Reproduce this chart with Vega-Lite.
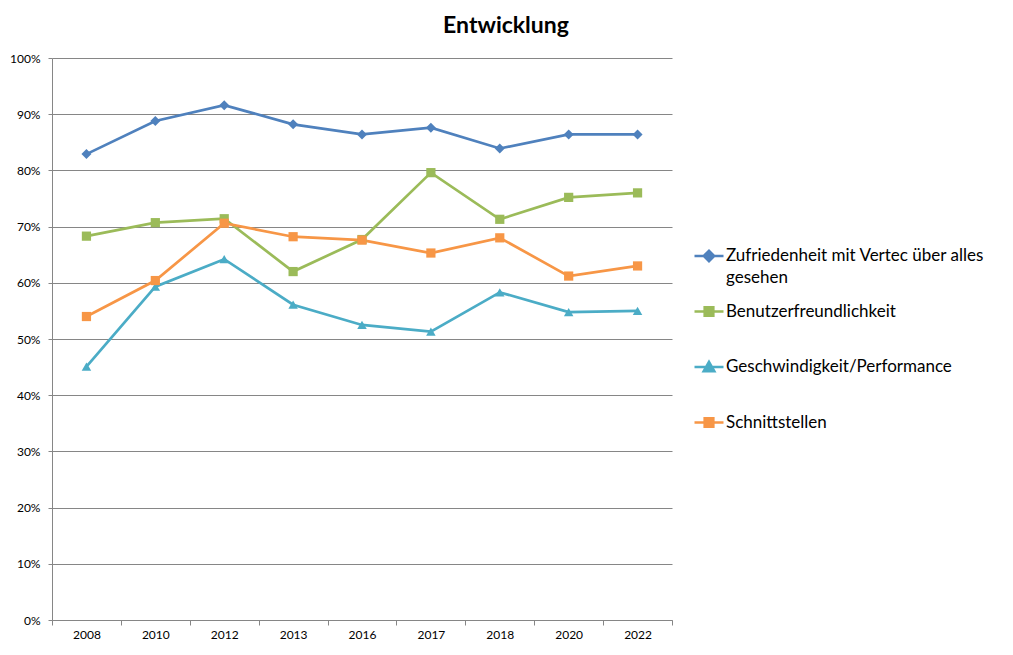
{
  "$schema": "https://vega.github.io/schema/vega-lite/v6.json",
  "width": 620,
  "height": 562,
  "autosize": {"type": "none"},
  "padding": {"left": 52, "top": 58, "right": 341, "bottom": 35},
  "background": "white",
  "title": {
    "text": "Entwicklung",
    "font": "Lato",
    "fontSize": 23,
    "fontWeight": "bold",
    "color": "#000000",
    "anchor": "middle",
    "frame": "group",
    "dx": 144,
    "offset": 14
  },
  "data": {
    "values": [
      {"year": "2008", "series": "Zufriedenheit mit Vertec über alles gesehen", "value": 0.829},
      {"year": "2010", "series": "Zufriedenheit mit Vertec über alles gesehen", "value": 0.888},
      {"year": "2012", "series": "Zufriedenheit mit Vertec über alles gesehen", "value": 0.916},
      {"year": "2013", "series": "Zufriedenheit mit Vertec über alles gesehen", "value": 0.882},
      {"year": "2016", "series": "Zufriedenheit mit Vertec über alles gesehen", "value": 0.864},
      {"year": "2017", "series": "Zufriedenheit mit Vertec über alles gesehen", "value": 0.876},
      {"year": "2018", "series": "Zufriedenheit mit Vertec über alles gesehen", "value": 0.839},
      {"year": "2020", "series": "Zufriedenheit mit Vertec über alles gesehen", "value": 0.864},
      {"year": "2022", "series": "Zufriedenheit mit Vertec über alles gesehen", "value": 0.864},
      {"year": "2008", "series": "Benutzerfreundlichkeit", "value": 0.683},
      {"year": "2010", "series": "Benutzerfreundlichkeit", "value": 0.707},
      {"year": "2012", "series": "Benutzerfreundlichkeit", "value": 0.714},
      {"year": "2013", "series": "Benutzerfreundlichkeit", "value": 0.620},
      {"year": "2016", "series": "Benutzerfreundlichkeit", "value": 0.677},
      {"year": "2017", "series": "Benutzerfreundlichkeit", "value": 0.796},
      {"year": "2018", "series": "Benutzerfreundlichkeit", "value": 0.713},
      {"year": "2020", "series": "Benutzerfreundlichkeit", "value": 0.752},
      {"year": "2022", "series": "Benutzerfreundlichkeit", "value": 0.760},
      {"year": "2008", "series": "Geschwindigkeit/Performance", "value": 0.451},
      {"year": "2010", "series": "Geschwindigkeit/Performance", "value": 0.593},
      {"year": "2012", "series": "Geschwindigkeit/Performance", "value": 0.642},
      {"year": "2013", "series": "Geschwindigkeit/Performance", "value": 0.561},
      {"year": "2016", "series": "Geschwindigkeit/Performance", "value": 0.525},
      {"year": "2017", "series": "Geschwindigkeit/Performance", "value": 0.513},
      {"year": "2018", "series": "Geschwindigkeit/Performance", "value": 0.583},
      {"year": "2020", "series": "Geschwindigkeit/Performance", "value": 0.548},
      {"year": "2022", "series": "Geschwindigkeit/Performance", "value": 0.550},
      {"year": "2008", "series": "Schnittstellen", "value": 0.540},
      {"year": "2010", "series": "Schnittstellen", "value": 0.604},
      {"year": "2012", "series": "Schnittstellen", "value": 0.706},
      {"year": "2013", "series": "Schnittstellen", "value": 0.682},
      {"year": "2016", "series": "Schnittstellen", "value": 0.676},
      {"year": "2017", "series": "Schnittstellen", "value": 0.653},
      {"year": "2018", "series": "Schnittstellen", "value": 0.680},
      {"year": "2020", "series": "Schnittstellen", "value": 0.612},
      {"year": "2022", "series": "Schnittstellen", "value": 0.630}
    ]
  },
  "encoding": {
    "x": {
      "field": "year",
      "type": "ordinal",
      "scale": {"paddingInner": 0, "paddingOuter": 0},
      "axis": {
        "title": null,
        "labelAngle": 0,
        "labelFont": "Lato",
        "labelFontSize": 12,
        "labelColor": "#000000",
        "labelPadding": 4,
        "tickBand": "extent",
        "tickSize": 5,
        "tickColor": "#868686",
        "domainColor": "#868686",
        "grid": false
      }
    },
    "y": {
      "field": "value",
      "type": "quantitative",
      "scale": {"domain": [0, 1], "nice": false},
      "axis": {
        "title": null,
        "format": ".0%",
        "values": [0, 0.1, 0.2, 0.3, 0.4, 0.5, 0.6, 0.7, 0.8, 0.9, 1],
        "labelFont": "Lato",
        "labelFontSize": 12,
        "labelColor": "#000000",
        "labelPadding": 8,
        "tickSize": 4,
        "tickColor": "#868686",
        "domainColor": "#868686",
        "gridColor": "#868686",
        "gridWidth": 1
      }
    },
    "color": {
      "field": "series",
      "type": "nominal",
      "scale": {
        "domain": ["Zufriedenheit mit Vertec über alles gesehen", "Benutzerfreundlichkeit", "Geschwindigkeit/Performance", "Schnittstellen"],
        "range": ["#4F81BD", "#9BBB59", "#4BACC6", "#F79646"]
      },
      "legend": {
        "title": null,
        "orient": "none",
        "legendX": 641,
        "legendY": 188,
        "symbolSize": 841,
        "symbolStrokeWidth": 2.5,
        "labelFont": "Lato",
        "labelFontSize": 17,
        "labelColor": "#000000",
        "labelOffset": 1,
        "labelLimit": 400,
        "clipHeight": 20,
        "rowPadding": 15.5,
        "labelExpr": "datum.label == 'Zufriedenheit mit Vertec über alles gesehen' ? ['Zufriedenheit mit Vertec über alles', 'gesehen'] : [datum.label, ' ']",
        "encode": {
          "symbols": {
            "update": {
              "shape": {"signal": "datum.value == 'Zufriedenheit mit Vertec über alles gesehen' ? 'M-1,0H1M-0.36,0L0,-0.36L0.36,0L0,0.36Z' : datum.value == 'Geschwindigkeit/Performance' ? 'M-1,0H1M0,-0.36L0.37,0.3H-0.37Z' : 'M-1,0H1M-0.3,-0.3H0.3V0.3H-0.3Z'"},
              "fill": {"signal": "scale('color', datum.value)"},
              "fillOpacity": {"value": 1}
            }
          },
          "labels": {
            "update": {
              "lineHeight": {"value": 22}
            }
          }
        }
      }
    }
  },
  "layer": [
    {
      "mark": {"type": "line", "strokeWidth": 2.7}
    },
    {
      "transform": [{"filter": "datum.series == 'Zufriedenheit mit Vertec über alles gesehen'"}],
      "mark": {"type": "point", "shape": "diamond", "filled": true, "opacity": 1, "size": 100}
    },
    {
      "transform": [{"filter": "datum.series == 'Geschwindigkeit/Performance'"}],
      "mark": {"type": "point", "shape": "triangle-up", "filled": true, "opacity": 1, "size": 90}
    },
    {
      "transform": [{"filter": "datum.series == 'Benutzerfreundlichkeit' || datum.series == 'Schnittstellen'"}],
      "mark": {"type": "point", "shape": "square", "filled": true, "opacity": 1, "size": 85}
    }
  ],
  "config": {
    "view": {"stroke": null}
  }
}
